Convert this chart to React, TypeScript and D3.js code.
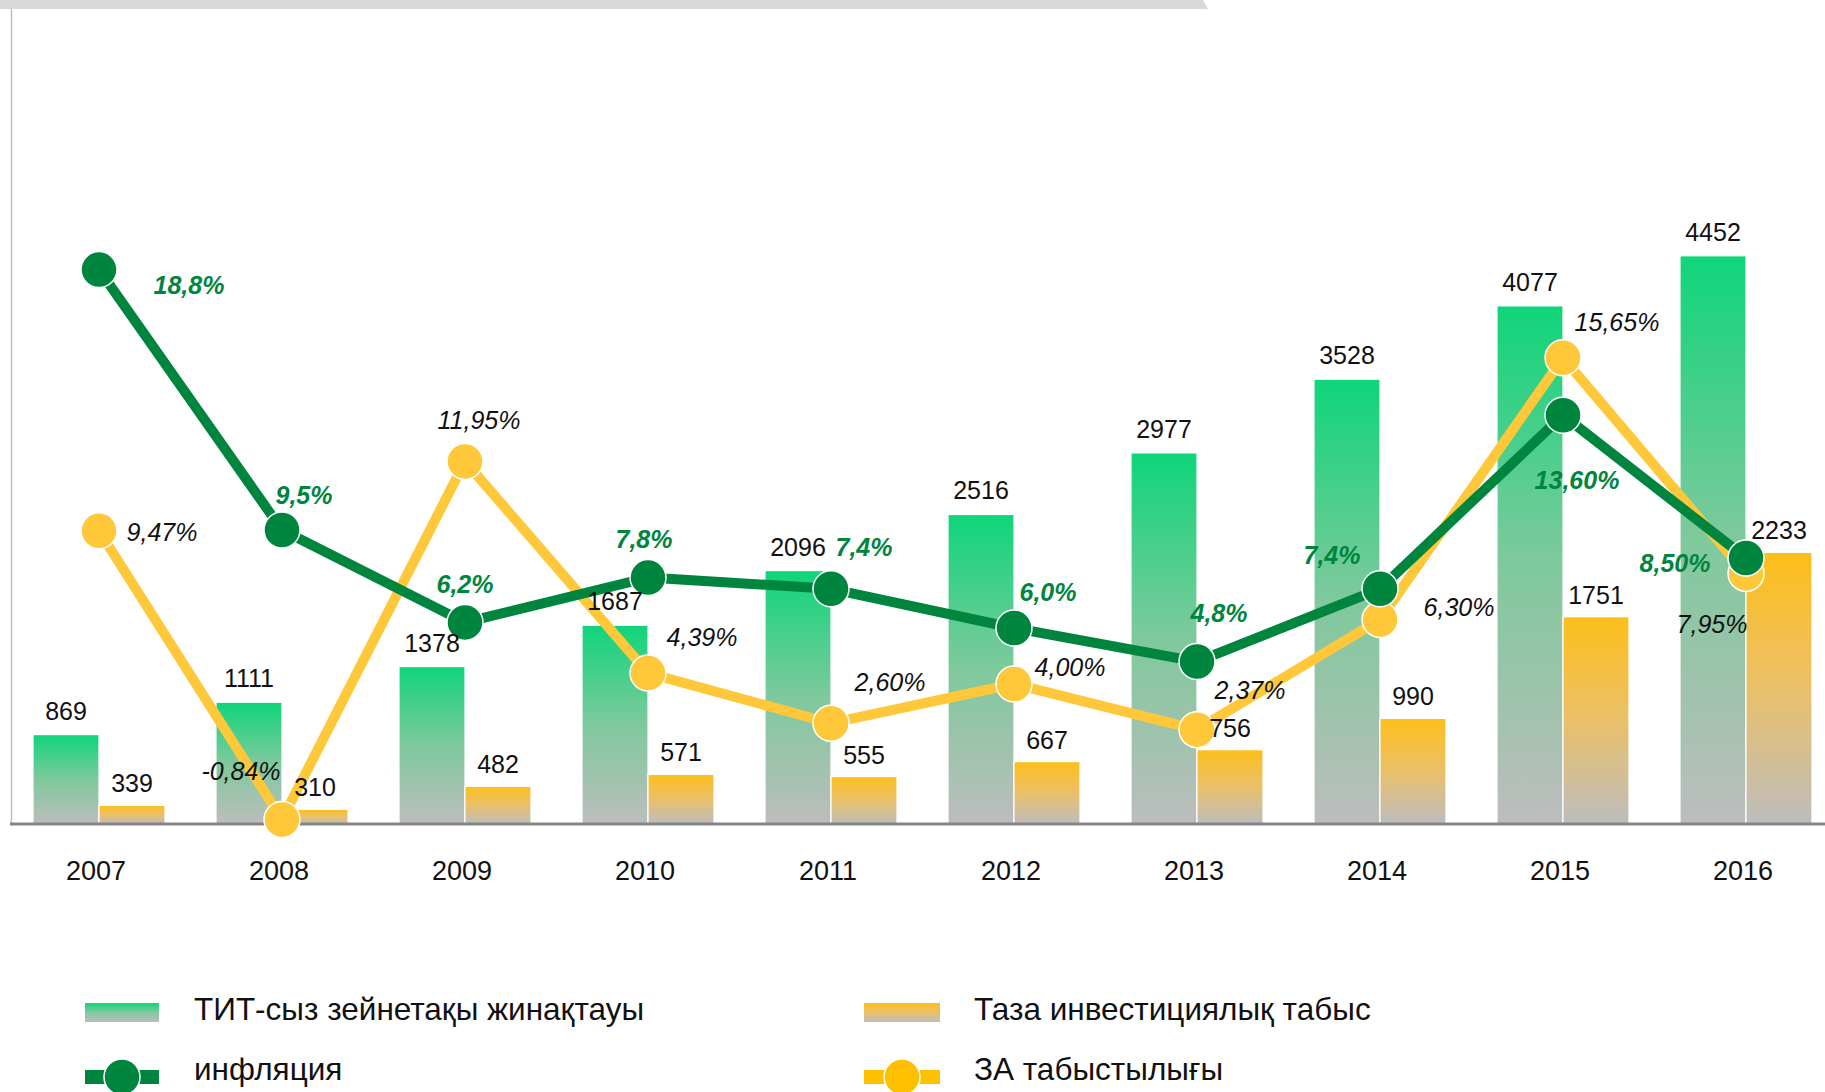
import * as d3 from 'd3'

const years = ['2007', '2008', '2009', '2010', '2011', '2012', '2013', '2014', '2015', '2016']
const pensionSavings = [869, 1111, 1378, 1687, 2096, 2516, 2977, 3528, 4077, 4452]
const netIncome = [339, 310, 482, 571, 555, 667, 756, 990, 1751, 2233]
const inflation = [18.8, 9.5, 6.2, 7.8, 7.4, 6.0, 4.8, 7.4, 13.6, 8.5]
const inflationLabels = ['18,8%', '9,5%', '6,2%', '7,8%', '7,4%', '6,0%', '4,8%', '7,4%', '13,60%', '8,50%']
const returnRate = [9.47, -0.84, 11.95, 4.39, 2.6, 4.0, 2.37, 6.3, 15.65, 7.95]
const returnLabels = ['9,47%', '-0,84%', '11,95%', '4,39%', '2,60%', '4,00%', '2,37%', '6,30%', '15,65%', '7,95%']

// hand placement of the % labels, relative to each dot
const inflOffsets: [number, number][] = [
  [90, 16], [22, -35], [0, -38], [-4, -38], [33, -42],
  [34, -36], [22, -48], [-48, -34], [14, 65], [-71, 5],
]
const returnOffsets: [number, number][] = [
  [63, 1], [-41, -48], [14, -41], [54, -36], [59, -41],
  [56, -17], [53, -39], [79, -12], [54, -36], [-34, 51],
]

const W = 1825
const H = 1092
const FONT = '"Liberation Sans", Arial, sans-serif'
const GREEN = '#00853F'
const YELLOW = '#FFC83A'
const baseY = 824

export default function App() {
  const x = d3.scaleBand<string>().domain(years).range([7.5, 1837.5])
  const inner = d3.scaleBand<string>().domain(['tit', 'taza']).range([0, 132])
  const yBar = d3.scaleLinear().domain([200, 4600]).range([baseY, 236])
  const yPct = d3.scaleLinear().domain([-1, 20]).range([baseY, 236])

  const cx = (i: number) => (x(years[i]) ?? 0) + x.bandwidth() / 2
  const line = d3.line<number>().x((_, i) => cx(i)).y((d) => yPct(d))

  const barX = (i: number, key: string) => cx(i) - 66 + (inner(key) ?? 0)

  return (
    <svg width={W} height={H} style={{ position: 'absolute', left: 0, top: 0, fontFamily: FONT }}>
      <defs>
        <linearGradient id="gGreen" x1="0" y1="0" x2="0" y2="1">
          <stop offset="0" stopColor="#0FD57A" />
          <stop offset="0.5" stopColor="#7FC99C" />
          <stop offset="1" stopColor="#BDBDBD" />
        </linearGradient>
        <linearGradient id="gOrange" x1="0" y1="0" x2="0" y2="1">
          <stop offset="0" stopColor="#FDBF1A" />
          <stop offset="0.5" stopColor="#EAC06A" />
          <stop offset="1" stopColor="#BDBDBD" />
        </linearGradient>
      </defs>

      {/* top band and left frame */}
      <path d="M0,0 L1203,0 L1208,9 L0,9 Z" fill="#D9D9D9" />
      <line x1={11.5} x2={11.5} y1={9} y2={baseY} stroke="#BFBFBF" strokeWidth={1.5} />

      {/* bars */}
      {years.map((y, i) => (
        <g key={y}>
          <rect x={barX(i, 'tit')} y={yBar(pensionSavings[i])} width={inner.bandwidth()}
            height={baseY - yBar(pensionSavings[i])} fill="url(#gGreen)" stroke="#fff" strokeWidth={1.2} />
          <rect x={barX(i, 'taza')} y={yBar(netIncome[i])} width={inner.bandwidth()}
            height={baseY - yBar(netIncome[i])} fill="url(#gOrange)" stroke="#fff" strokeWidth={1.2} />
        </g>
      ))}

      {/* axis */}
      <line x1={10} x2={W} y1={baseY} y2={baseY} stroke="#858585" strokeWidth={3} />
      {years.map((y, i) => (
        <text key={y} x={cx(i) - 3} y={baseY + 47} dy="0.35em" textAnchor="middle" fontSize={27} fill="#111">{y}</text>
      ))}

      {/* lines */}
      <path d={line(returnRate) ?? ''} fill="none" stroke={YELLOW} strokeWidth={10} strokeLinejoin="round" />
      {returnRate.map((v, i) => (
        <circle key={i} cx={cx(i)} cy={yPct(v)} r={18} fill={YELLOW} stroke="#fff" strokeWidth={1.5} />
      ))}
      <path d={line(inflation) ?? ''} fill="none" stroke={GREEN} strokeWidth={10} strokeLinejoin="round" />
      {inflation.map((v, i) => (
        <circle key={i} cx={cx(i)} cy={yPct(v)} r={18} fill={GREEN} stroke="#fff" strokeWidth={1.5} />
      ))}

      {/* bar value labels */}
      {years.map((y, i) => (
        <g key={y} fontSize={25} fill="#111" textAnchor="middle">
          <text x={barX(i, 'tit') + 33} y={yBar(pensionSavings[i]) - 15}>{pensionSavings[i]}</text>
          <text x={barX(i, 'taza') + 33} y={yBar(netIncome[i]) - 13}>{netIncome[i]}</text>
        </g>
      ))}

      {/* % labels */}
      {returnRate.map((v, i) => (
        <text key={i} x={cx(i) + returnOffsets[i][0]} y={yPct(v) + returnOffsets[i][1]} dy="0.35em"
          textAnchor="middle" fontSize={25} fontStyle="italic" fill="#111">{returnLabels[i]}</text>
      ))}
      {inflation.map((v, i) => (
        <text key={i} x={cx(i) + inflOffsets[i][0]} y={yPct(v) + inflOffsets[i][1]} dy="0.35em"
          textAnchor="middle" fontSize={25} fontStyle="italic" fontWeight="bold" fill={GREEN}>{inflationLabels[i]}</text>
      ))}

      {/* legend */}
      <g fontSize={31.5} fill="#111">
        <rect x={85} y={1003} width={74} height={19} fill="url(#gGreen)" />
        <text x={194} y={1009} dy="0.35em">ТИТ-сыз зейнетақы жинақтауы</text>
        <rect x={864} y={1003} width={76} height={19} fill="url(#gOrange)" />
        <text x={974} y={1009} dy="0.35em">Таза инвестициялық табыс</text>

        <line x1={85} x2={159} y1={1077} y2={1077} stroke={GREEN} strokeWidth={14} />
        <circle cx={122} cy={1077} r={18} fill={GREEN} stroke="#fff" strokeWidth={1.5} />
        <text x={194} y={1069} dy="0.35em">инфляция</text>
        <line x1={864} x2={940} y1={1077} y2={1077} stroke="#FFC000" strokeWidth={14} />
        <circle cx={902} cy={1077} r={18} fill="#FFC000" stroke="#fff" strokeWidth={1.5} />
        <text x={974} y={1069} dy="0.35em">ЗА табыстылығы</text>
      </g>
    </svg>
  )
}
